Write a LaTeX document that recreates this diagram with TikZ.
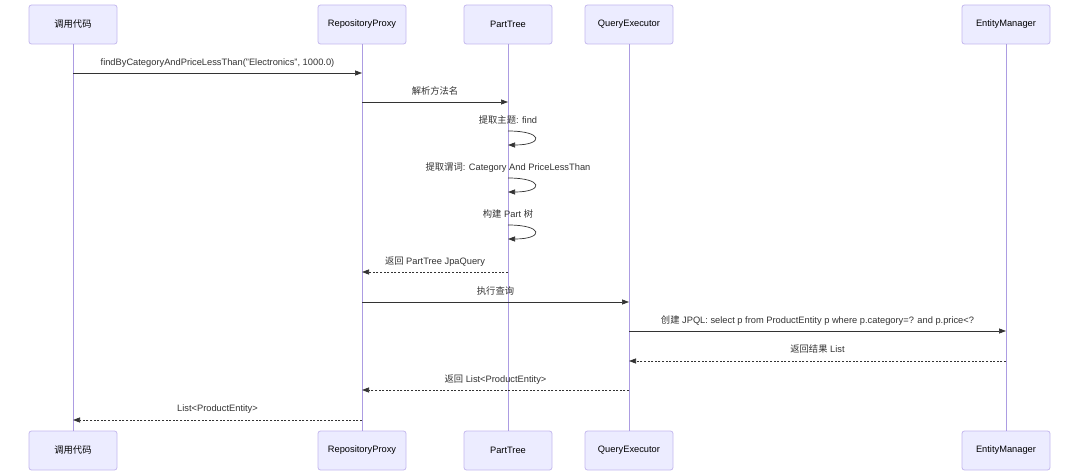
\documentclass[tikz,border=0pt]{standalone}
\usepackage{fontspec}
\setmainfont{Liberation Sans}
\newfontfamily\cjk{Noto Sans CJK SC}
\usetikzlibrary{arrows.meta}
\definecolor{actfill}{HTML}{ECECFF}
\definecolor{actborder}{HTML}{C4B8EE}
\definecolor{lifeline}{HTML}{AC9CE2}
\definecolor{msgcol}{HTML}{333333}
\begin{document}
\begin{tikzpicture}[x=1pt,y=-1pt,
  actor/.style={draw=actborder, fill=actfill, rounded corners=2.5pt, minimum width=88pt, minimum height=39pt, inner sep=0pt, font=\fontsize{9.3}{11}\selectfont, text=black, line width=0.8pt},
  life/.style={draw=lifeline, line width=1pt},
  msg/.style={draw=msgcol, line width=0.7pt, -{Triangle[length=7pt,width=5pt]}},
  ret/.style={msg, dash pattern=on 2pt off 1.6pt},
  lbl/.style={font=\fontsize{9.3}{11}\selectfont, text=msgcol, anchor=base, inner sep=0pt}]
\useasboundingbox (0,0) rectangle (1080,476);
\fill[white] (0,0) rectangle (1080,476);
% actors
\node[actor] (a1t) at (73,24.5) {\cjk 调用代码};
\node[actor] (a2t) at (362,24.5) {RepositoryProxy};
\node[actor] (a3t) at (508,24.5) {PartTree};
\node[actor] (a4t) at (629,24.5) {QueryExecutor};
\node[actor] (a5t) at (1006,24.5) {EntityManager};
\node[actor] (a1b) at (73,450.5) {\cjk 调用代码};
\node[actor] (a2b) at (362,450.5) {RepositoryProxy};
\node[actor] (a3b) at (508,450.5) {PartTree};
\node[actor] (a4b) at (629,450.5) {QueryExecutor};
\node[actor] (a5b) at (1006,450.5) {EntityManager};
% lifelines
\draw[life] (a1t) -- (a1b);
\draw[life] (a2t) -- (a2b);
\draw[life] (a3t) -- (a3b);
\draw[life] (a4t) -- (a4b);
\draw[life] (a5t) -- (a5b);
% message endpoints
\coordinate (m1a) at (a1t |- 0,73);   \coordinate (m1b) at (a2t |- 0,73);
\coordinate (m2a) at (a2t |- 0,102);  \coordinate (m2b) at (a3t |- 0,102);
\coordinate (s1a) at (a3t |- 0,131);  \coordinate (s1b) at (a3t |- 0,145);
\coordinate (s2a) at (a3t |- 0,178);  \coordinate (s2b) at (a3t |- 0,192);
\coordinate (s3a) at (a3t |- 0,225);  \coordinate (s3b) at (a3t |- 0,239);
\coordinate (m6a) at (a3t |- 0,272);  \coordinate (m6b) at (a2t |- 0,272);
\coordinate (m7a) at (a2t |- 0,302);  \coordinate (m7b) at (a4t |- 0,302);
\coordinate (m8a) at (a4t |- 0,331);  \coordinate (m8b) at (a5t |- 0,331);
\coordinate (m9a) at (a5t |- 0,361);  \coordinate (m9b) at (a4t |- 0,361);
\coordinate (m10a) at (a4t |- 0,390); \coordinate (m10b) at (a2t |- 0,390);
\coordinate (m11a) at (a2t |- 0,420); \coordinate (m11b) at (a1t |- 0,420);
% messages
\draw[msg] (m1a) -- (m1b);
\node[lbl] (l1) at (217.5,65.5) {findByCategoryAndPriceLessThan("Electronics", 1000.0)};
\draw[msg] (m2a) -- (m2b);
\node[lbl] (l2) at (435,94.5) {\cjk 解析方法名};
\draw[msg] (s1a) .. controls +(36,0) and +(36,0) .. (s1b);
\node[lbl] (l3) at (508,123.5) {{\cjk 提取主题}: find};
\draw[msg] (s2a) .. controls +(36,0) and +(36,0) .. (s2b);
\node[lbl] (l4) at (508,170.5) {{\cjk 提取谓词}: Category And PriceLessThan};
\draw[msg] (s3a) .. controls +(36,0) and +(36,0) .. (s3b);
\node[lbl] (l5) at (508,217.5) {{\cjk 构建} Part {\cjk 树}};
\draw[ret] (m6a) -- (m6b);
\node[lbl] (l6) at (435,264.5) {{\cjk 返回} PartTree JpaQuery};
\draw[msg] (m7a) -- (m7b);
\node[lbl] (l7) at (495.5,294) {\cjk 执行查询};
\draw[msg] (m8a) -- (m8b);
\node[lbl] (l8) at (817.5,323.5) {{\cjk 创建} JPQL: select p from ProductEntity p where p.category=? and p.price<?};
\draw[ret] (m9a) -- (m9b);
\node[lbl] (l9) at (817.5,352) {{\cjk 返回结果} List};
\draw[ret] (m10a) -- (m10b);
\node[lbl] (l10) at (495.5,382.5) {{\cjk 返回} List<ProductEntity>};
\draw[ret] (m11a) -- (m11b);
\node[lbl] (l11) at (217.5,411.5) {List<ProductEntity>};
\end{tikzpicture}
\end{document}
